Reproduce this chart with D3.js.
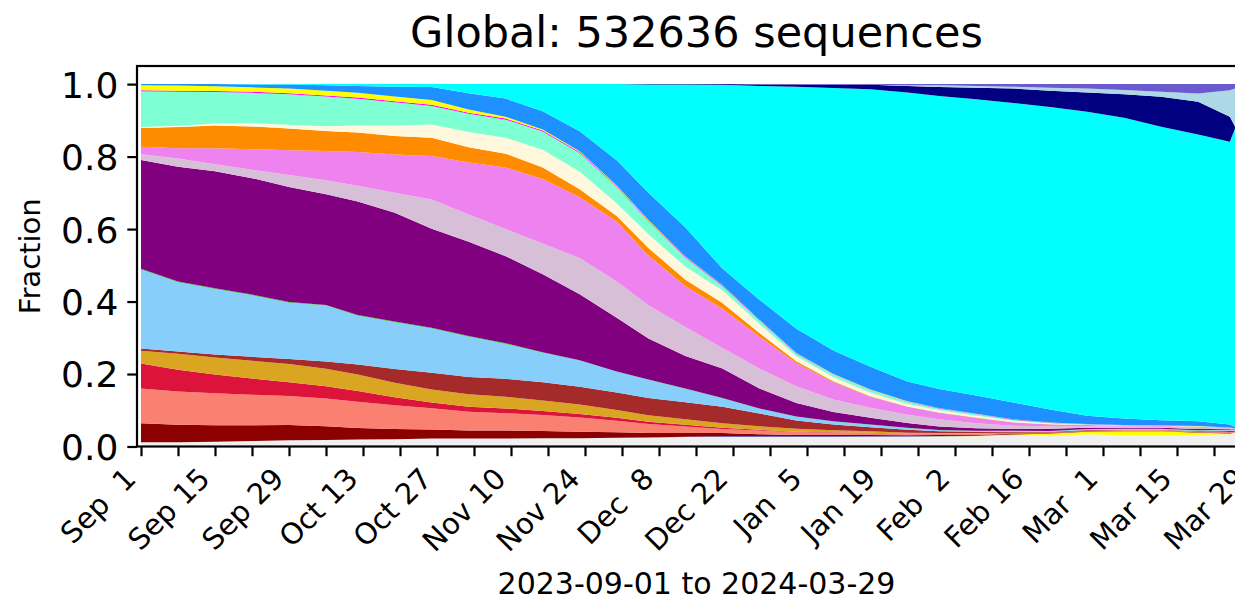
<!DOCTYPE html>
<html lang="en">
<head>
<meta charset="UTF-8">
<title>Global lineage fractions</title>
<script src="https://d3js.org/d3.v7.min.js"></script>
<style>
  body { margin: 0; background: #fff; }
  svg { display: block; font-family: "DejaVu Sans", sans-serif; }
  .tick text { white-space: pre; }
</style>
</head>
<body>
<svg id="chart" width="1235" height="600"></svg>
<script>
  // Sample dates (the plot is cut at the right edge, around Mar 26)
  const dates = ["2023-09-01","2023-09-08","2023-09-15","2023-09-22","2023-09-29","2023-10-06","2023-10-12","2023-10-19",
    "2023-10-26","2023-11-02","2023-11-09","2023-11-16","2023-11-23","2023-11-30","2023-12-06","2023-12-13",
    "2023-12-20","2023-12-27","2024-01-03","2024-01-10","2024-01-17","2024-01-24","2024-01-30","2024-02-06",
    "2024-02-13","2024-02-20","2024-02-27","2024-03-05","2024-03-12","2024-03-19","2024-03-25","2024-03-26"];

  // Fractions per lineage, bottom of the stack first
  const other = [0.012,0.012,0.013,0.015,0.017,0.018,0.019,0.020,0.022,0.022,0.022,0.023,0.023,0.024,0.025,0.026,
    0.026,0.026,0.026,0.026,0.027,0.027,0.027,0.028,0.030,0.031,0.033,0.032,0.030,0.032,0.034,0.037];
  const blueLow = [0,0,0,0,0,0,0,0,0,0,0,0,0,0,0,0.001,0.002,0.002,0.002,0.002,0.001,0.001,0.001,0,0,0,0,0,0,0,0,0];
  const yellowLow = [0,0,0,0,0,0,0,0,0,0,0,0,0,0,0,0,0,0,0,0,0,0,0.001,0.002,0.003,0.005,0.008,0.010,0.012,0.006,0.002,0.001];
  const darkred = [0.052,0.048,0.046,0.044,0.042,0.038,0.032,0.028,0.025,0.022,0.022,0.020,0.018,0.015,0.012,0.010,
    0.009,0.006,0.004,0.004,0.004,0.003,0.003,0.002,0.002,0.001,0.001,0.001,0.001,0.001,0.001,0.001];
  const salmon = [0.096,0.092,0.088,0.084,0.080,0.076,0.072,0.066,0.058,0.052,0.048,0.044,0.039,0.032,0.025,0.018,
    0.011,0.010,0.008,0.006,0.005,0.003,0.002,0.002,0.001,0.001,0.001,0.001,0.001,0.001,0.002,0.002];
  const crimson = [0.069,0.060,0.052,0.045,0.038,0.034,0.030,0.022,0.016,0.014,0.013,0.011,0.010,0.008,0.006,0.005,
    0.004,0.002,0.001,0.001,0.001,0.001,0.001,0.001,0.001,0.001,0.001,0.001,0.001,0.001,0.004,0.002];
  const goldenrod = [0.035,0.044,0.047,0.049,0.050,0.048,0.045,0.040,0.036,0.034,0.032,0.029,0.026,0.022,0.018,0.015,
    0.012,0.010,0.008,0.006,0.004,0.003,0.002,0.002,0.001,0.0005,0.0005,0.0005,0.0005,0.0005,0.0005,0.0005];
  const brown = [0.006,0.006,0.008,0.011,0.014,0.020,0.028,0.038,0.046,0.048,0.050,0.050,0.049,0.048,0.048,0.047,
    0.046,0.035,0.023,0.016,0.011,0.008,0.005,0.004,0.003,0.001,0.001,0.001,0.001,0.001,0.001,0.001];
  const skyblue = [0.218,0.191,0.181,0.170,0.155,0.154,0.134,0.129,0.122,0.111,0.096,0.082,0.072,0.057,0.050,0.037,
    0.023,0.013,0.010,0.008,0.007,0.005,0.003,0.002,0.002,0.002,0.002,0.002,0.002,0.002,0.002,0.002];
  const green = [0.002,0.002,0.002,0.002,0.002,0.002,0.002,0.002,0.002,0.002,0.002,0.001,0.001,0.001,0.001,0.001,
    0.001,0.001,0.001,0.001,0.001,0.0005,0.0005,0.0005,0.0005,0.0005,0.0005,0.0005,0.0005,0.0005,0.0005,0.0005];
  const purple = [0.300,0.317,0.323,0.322,0.317,0.305,0.313,0.300,0.273,0.260,0.240,0.215,0.182,0.148,0.113,0.090,
    0.081,0.055,0.037,0.025,0.018,0.013,0.010,0.007,0.005,0.006,0.004,0.003,0.0025,0.003,0.0015,0.001];
  const thistle = [0.016,0.023,0.020,0.023,0.033,0.038,0.043,0.055,0.080,0.075,0.075,0.085,0.100,0.100,0.092,0.080,
    0.057,0.055,0.046,0.035,0.028,0.023,0.020,0.014,0.009,0.007,0.004,0.003,0.003,0.0035,0.0015,0.001];
  const violet = [0.020,0.028,0.044,0.057,0.068,0.081,0.093,0.106,0.120,0.144,0.170,0.178,0.168,0.166,0.137,0.112,
    0.108,0.088,0.064,0.047,0.030,0.022,0.0175,0.0145,0.0085,0.005,0.003,0.002,0.002,0.0025,0.001,0.0005];
  const orange = [0.052,0.059,0.063,0.063,0.060,0.055,0.054,0.051,0.050,0.042,0.038,0.032,0.022,0.015,0.021,0.018,
    0.016,0.010,0.005,0.003,0.002,0.001,0.001,0.001,0.001,0.0005,0.0003,0.0002,0.0002,0.0002,0.0001,0.0001];
  const cornsilk = [0.003,0.003,0.005,0.009,0.010,0.013,0.019,0.028,0.037,0.042,0.044,0.049,0.048,0.035,0.038,0.036,
    0.035,0.025,0.014,0.011,0.009,0.007,0.006,0.005,0.004,0.002,0.001,0.0008,0.0007,0.0008,0.0004,0.0002];
  const aquamarine = [0.098,0.094,0.087,0.084,0.084,0.082,0.074,0.065,0.051,0.050,0.050,0.050,0.052,0.045,0.035,0.025,
    0.012,0.010,0.007,0.007,0.007,0.005,0.005,0.004,0.003,0.0015,0.001,0.0007,0.0005,0.0007,0.0004,0.0002];
  const magenta = [0.003,0.003,0.003,0.003,0.003,0.003,0.003,0.003,0.003,0.003,0.003,0.003,0.003,0.002,0.002,0.002,
    0.002,0.001,0.001,0.001,0.001,0.001,0.001,0.001,0.001,0.0005,0.0005,0.0005,0.0005,0.0005,0.0005,0.0005];
  const yellow = [0.014,0.014,0.013,0.012,0.013,0.013,0.013,0.013,0.013,0.009,0.005,0.003,0.002,0.002,0.002,0.001,
    0.001,0.001,0.001,0.001,0.001,0.001,0.0005,0.0005,0.0005,0.0005,0.0003,0.0002,0.0001,0.0002,0.0001,0.0001];
  const dodgerblue = [0.003,0.004,0.006,0.008,0.011,0.015,0.019,0.027,0.036,0.045,0.050,0.050,0.055,0.070,0.075,0.080,
    0.045,0.055,0.067,0.065,0.063,0.055,0.052,0.050,0.046,0.036,0.023,0.018,0.014,0.013,0.008,0.003];
  const cyan = [0,0,0,0.001,0.001,0.003,0.005,0.007,0.008,0.025,0.040,0.075,0.130,0.210,0.299,0.395,
    0.507,0.590,0.668,0.724,0.766,0.797,0.809,0.818,0.827,0.835,0.839,0.830,0.810,0.792,0.781,0.826];
  const navy = [0,0,0,0,0,0,0,0,0,0,0,0,0,0,0.001,0.001,
    0.002,0.004,0.006,0.009,0.012,0.018,0.025,0.032,0.040,0.045,0.053,0.065,0.083,0.090,0.069,0.004];
  const lightblue = [0,0,0,0,0,0,0,0,0,0,0,0,0,0,0,0,
    0,0,0,0,0,0.002,0.005,0.005,0.005,0.008,0.011,0.012,0.014,0.023,0.073,0.106];
  const slateblue = [0,0,0,0,0,0,0,0,0,0,0,0,0,0,0,0,
    0,0.001,0.001,0.002,0.002,0.003,0.003,0.005,0.007,0.010,0.012,0.016,0.021,0.026,0.017,0.012];

  const seriesValues = [other, blueLow, yellowLow, darkred, salmon, crimson, goldenrod, brown, skyblue, green,
    purple, thistle, violet, orange, cornsilk, aquamarine, magenta, yellow, dodgerblue, cyan, navy, lightblue, slateblue];
  const colors = ["#f0f0f0", "#4169e1", "#ffff00", "#8b0000", "#fa8072", "#dc143c", "#daa520", "#a52a2a", "#87cefa", "#32cd32",
    "#800080", "#d8bfd8", "#ee82ee", "#ff8c00", "#fff8dc", "#7fffd4", "#ff00ff", "#ffff00", "#1e90ff", "#00ffff", "#000080", "#add8e6", "#6a5acd"];
  const yTicks = [0, 0.2, 0.4, 0.6, 0.8, 1.0];
  const titleText = "Global: 532636 sequences";
  const xLabelText = "2023-09-01 to 2024-03-29";

  // Build rows for d3.stack
  const parse = d3.utcParse("%Y-%m-%d");
  const keys = seriesValues.map((_, i) => "s" + i);
  const rows = dates.map((d, j) => {
    const row = { date: parse(d) };
    seriesValues.forEach((vals, i) => { row[keys[i]] = vals[j]; });
    return row;
  });

  const stack = d3.stack().keys(keys).offset(d3.stackOffsetExpand);
  const layers = stack(rows);

  // Axes geometry (the axes run past the right edge of the picture)
  const plotLeft = 137, plotTop = 66, plotRight = 1256, plotBottom = 446.5;
  const x = d3.scaleUtc()
    .domain([parse("2023-09-01"), parse("2024-03-29")])
    .range([141, 1251]);
  const y = d3.scaleLinear().domain([0, 1.05]).range([plotBottom, plotTop]);

  const svg = d3.select("#chart");

  const area = d3.area()
    .x(d => x(d.data.date))
    .y0(d => y(d[0]))
    .y1(d => y(d[1]));

  svg.append("g")
    .selectAll("path")
    .data(layers)
    .enter()
    .append("path")
    .attr("d", area)
    .attr("fill", (d, i) => colors[i]);

  // X axis: a tick every week, a label every two weeks
  const start = parse("2023-09-01");
  const weekTicks = d3.range(0, 31).map(i => d3.utcDay.offset(start, 7 * i));
  const fmt = d3.utcFormat("%b %e");

  const xAxis = svg.append("g")
    .attr("transform", `translate(0,${plotBottom})`)
    .call(d3.axisBottom(x).tickValues(weekTicks).tickSize(9.7)
      .tickFormat((d, i) => i % 2 ? "" : fmt(d)));
  xAxis.select(".domain").remove();
  xAxis.selectAll(".tick line").attr("stroke", "#000").attr("stroke-width", 2.2);
  xAxis.selectAll(".tick text")
    .attr("x", 0).attr("y", 0).attr("dy", 0)
    .attr("text-anchor", "end")
    .attr("transform", "translate(-4,34) rotate(-45)")
    .attr("font-size", 29)
    .attr("font-family", "DejaVu Sans")
    .attr("fill", "#000");

  // Y axis
  const yAxis = svg.append("g")
    .attr("transform", `translate(${plotLeft},0)`)
    .call(d3.axisLeft(y).tickValues(yTicks).tickSize(9.7).tickPadding(9).tickFormat(d3.format(".1f")));
  yAxis.select(".domain").remove();
  yAxis.selectAll(".tick line").attr("stroke", "#000").attr("stroke-width", 2.2);
  yAxis.selectAll(".tick text")
    .attr("font-size", 36)
    .attr("font-family", "DejaVu Sans")
    .attr("dy", "0.36em")
    .attr("fill", "#000");

  // Frame
  svg.append("rect")
    .attr("x", plotLeft).attr("y", plotTop)
    .attr("width", plotRight - plotLeft).attr("height", plotBottom - plotTop)
    .attr("fill", "none").attr("stroke", "#000").attr("stroke-width", 2.2);

  // Texts
  svg.append("text")
    .attr("x", (plotLeft + plotRight) / 2).attr("y", 47)
    .attr("text-anchor", "middle")
    .attr("font-size", 43)
    .text(titleText);

  svg.append("text")
    .attr("x", (plotLeft + plotRight) / 2).attr("y", 594)
    .attr("text-anchor", "middle")
    .attr("font-size", 30)
    .text(xLabelText);

  svg.append("text")
    .attr("transform", `translate(40,${(plotTop + plotBottom) / 2}) rotate(-90)`)
    .attr("text-anchor", "middle")
    .attr("font-size", 29)
    .text("Fraction");
</script>
</body>
</html>
